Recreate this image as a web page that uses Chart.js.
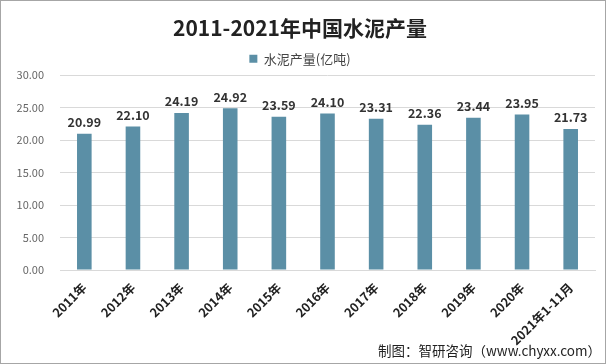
<!DOCTYPE html>
<html>
<head>
<meta charset="utf-8">
<script src="https://cdn.jsdelivr.net/npm/chart.js@4/dist/chart.umd.min.js"></script>
<style>
  html, body { margin: 0; padding: 0; background: #fff; }
  #wrap { width: 606px; height: 364px; position: relative; box-sizing: border-box; border: 1px solid #a6a6a6; }
</style>
</head>
<body>
<div id="wrap"><canvas id="c"></canvas></div>
<script>
// 2011-2021 水泥产量（亿吨）
const years = ["2011年", "2012年", "2013年", "2014年", "2015年", "2016年",
  "2017年", "2018年", "2019年", "2020年", "2021年1-11月"];
const output = [20.99, 22.10, 24.19, 24.92, 23.59, 24.10, 23.31, 22.36, 23.44, 23.95, 21.73];
const yTicks = [0, 5, 10, 15, 20, 25, 30];

const BAR = "#5b8fa6";
const FONT = "'Microsoft YaHei', 'Noto Sans CJK SC', 'Noto Sans', sans-serif";

// waarden boven de balken + bronvermelding
const labelsPlugin = {
  id: "barLabels",
  afterDatasetsDraw(chart) {
    const ctx = chart.ctx;
    const meta = chart.getDatasetMeta(0);
    ctx.save();
    ctx.font = "bold 12.5px " + FONT;
    ctx.fillStyle = "#333";
    ctx.textAlign = "center";
    ctx.textBaseline = "bottom";
    meta.data.forEach((bar, i) => {
      ctx.fillText(output[i].toFixed(2), bar.x, bar.y - 5);
    });
    ctx.font = "13.5px " + FONT;
    ctx.fillStyle = "#222";
    ctx.textAlign = "right";
    ctx.textBaseline = "alphabetic";
    ctx.fillText("制图：智研咨询（www.chyxx.com）", chart.width - 4, chart.height - 7);
    ctx.restore();
  },
};

new Chart(document.getElementById("c"), {
  type: "bar",
  data: {
    labels: years,
    datasets: [{
      label: "水泥产量(亿吨)",
      data: output,
      backgroundColor: BAR,
      barPercentage: 0.6,
      categoryPercentage: 0.5,
    }],
  },
  options: {
    responsive: true,
    maintainAspectRatio: false,
    animation: false,
    layout: { padding: { top: 12, right: 10, left: 4, bottom: 0 } },
    plugins: {
      title: {
        display: true,
        text: "2011-2021年中国水泥产量",
        color: "#222",
        font: { family: FONT, size: 21, weight: "bold" },
        padding: { top: 2, bottom: 7 },
      },
      legend: {
        labels: {
          color: "#444",
          font: { family: FONT, size: 13 },
          boxWidth: 8,
          boxHeight: 8,
          padding: 5,
        },
      },
      tooltip: { enabled: false },
    },
    scales: {
      x: {
        grid: { display: false },
        border: { color: "#d9d9d9" },
        ticks: {
          color: "#222",
          font: { family: FONT, size: 12.5, weight: "bold" },
          maxRotation: 45,
          minRotation: 45,
          autoSkip: false,
          padding: 2,
        },
        afterFit(scale) { scale.height = 93; },
      },
      y: {
        min: 0,
        max: 30,
        afterBuildTicks(scale) { scale.ticks = yTicks.map((v) => ({ value: v })); },
        grid: { color: "#d9d9d9", drawTicks: false },
        border: { display: false },
        ticks: {
          color: "#666",
          font: { family: FONT, size: 11 },
          padding: 16,
          callback: (v) => Number(v).toFixed(2),
        },
        afterFit(scale) { scale.width = 55; },
      },
    },
  },
  plugins: [labelsPlugin],
});
</script>
</body>
</html>
